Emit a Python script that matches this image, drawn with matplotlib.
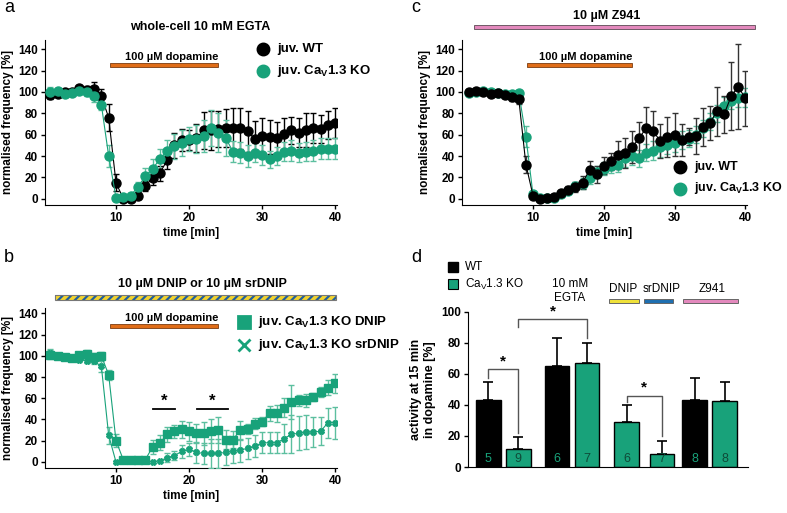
import matplotlib
matplotlib.use('Agg')
import matplotlib.pyplot as plt
from matplotlib.patches import Rectangle
import numpy as np

plt.rcParams['font.family'] = ['Liberation Sans', 'DejaVu Sans']
plt.rcParams['mathtext.fontset'] = 'custom'
plt.rcParams['mathtext.rm'] = 'Liberation Sans'
plt.rcParams['mathtext.bf'] = 'Liberation Sans:bold'
plt.rcParams['hatch.linewidth'] = 1.6

GREEN = '#18a27a'
W, H = 787, 513

minutes = np.arange(1, 41)

# panel a: whole-cell 10 mM EGTA
a_wt = [97, 98, 100, 100, 104, 102, 103, 96, 76, 15, 0, 0, 3, 12, 19, 24, 36, 50, 55, 55,
        57, 64, 64, 65, 66, 66, 66, 63, 56, 59, 58, 57, 61, 64, 62, 64, 66, 65, 69, 71]
a_wt_err = [4, 3, 3, 3, 3, 4, 6, 7, 13, 8, 2, 2, 3, 5, 6, 7, 8, 12, 10, 9,
            13, 17, 18, 17, 18, 19, 19, 19, 17, 17, 16, 15, 15, 13, 14, 16, 14, 13, 13, 14]
a_ko = [100, 101, 98, 99, 101, 100, 96, 88, 40, 1, 2, 3, 11, 21, 28, 37, 45, 49, 52, 56,
        56, 59, 66, 62, 57, 44, 43, 40, 43, 41, 37, 40, 44, 45, 43, 44, 45, 47, 47, 47]
a_ko_err = [5, 3, 3, 2, 3, 4, 5, 5, 10, 2, 2, 2, 5, 8, 9, 10, 10, 12, 12, 11,
            13, 15, 17, 18, 17, 10, 10, 10, 9, 9, 8, 8, 9, 10, 9, 9, 10, 10, 10, 10]

# panel b: DNIP / srDNIP
b_dnip = [101, 100, 99, 98, 101, 102, 99, 100, 82, 20, 2, 2, 2, 2, 14, 18, 26, 29, 31, 29,
          27, 27, 29, 30, 21, 21, 30, 31, 36, 38, 46, 46, 51, 56, 58, 58, 61, 66, 70, 74]
b_dnip_err = [4, 3, 2, 3, 3, 3, 4, 4, 5, 6, 2, 3, 3, 3, 7, 7, 7, 6, 8, 9,
              9, 11, 11, 12, 9, 8, 9, 5, 5, 4, 7, 8, 9, 16, 5, 6, 4, 5, 7, 9]
b_sr = [103, 100, 98, 98, 96, 95, 95, 90, 25, 0, 2, 1, 1, 1, 0, 1, 4, 6, 10, 12,
        9, 8, 8, 8, 9, 10, 11, 13, 15, 18, 18, 18, 22, 26, 27, 28, 28, 29, 37, 37]
b_sr_err = [3, 2, 2, 2, 2, 2, 3, 5, 8, 1, 1, 1, 1, 1, 1, 1, 4, 4, 6, 6,
            10, 10, 14, 14, 12, 11, 11, 10, 10, 10, 10, 10, 14, 18, 16, 16, 14, 13, 14, 15]

# panel c: Z941
c_wt = [100, 101, 100, 98, 99, 97, 95, 93, 32, 3, 0, 1, 2, 5, 8, 11, 15, 27, 23, 31,
        35, 41, 43, 48, 57, 66, 63, 54, 58, 60, 55, 58, 59, 67, 71, 82, 79, 96, 105, 94]
c_wt_err = [3, 3, 2, 2, 2, 3, 3, 4, 8, 2, 1, 1, 2, 3, 4, 5, 6, 8, 8, 8,
            8, 13, 14, 15, 15, 20, 19, 16, 19, 20, 15, 8, 17, 18, 16, 23, 17, 32, 40, 26]
c_ko = [99, 100, 101, 100, 99, 98, 98, 99, 58, 4, 1, 1, 1, 4, 7, 12, 14, 19, 25, 28,
        31, 32, 38, 40, 38, 43, 45, 48, 50, 52, 55, 56, 60, 66, 72, 80, 87, 92, 94, 95]
c_ko_err = [2, 2, 2, 2, 2, 2, 3, 3, 10, 2, 1, 1, 1, 2, 3, 4, 5, 5, 6, 6,
            7, 7, 8, 8, 8, 8, 9, 9, 8, 8, 8, 8, 8, 8, 8, 8, 8, 8, 8, 9]

# panel d: activity at 15 min in dopamine
d_vals = [43, 11.5, 65, 67, 29, 8.5, 43, 42.5]
d_err = [12, 7.5, 18, 13, 11, 8.5, 14, 12.5]
d_n = ['5', '9', '6', '7', '6', '7', '8', '8']
d_is_wt = [True, False, True, False, False, False, True, False]

dopamine_on, dopamine_off = 9.2, 24.0


def fx(x):
    return x / W


def fy(y):
    return 1 - y / H


def box(l, t, r, b):
    return [fx(l), fy(b), (r - l) / W, (b - t) / H]


def style(ax):
    for s in ['top', 'right']:
        ax.spines[s].set_visible(False)
    ax.tick_params(direction='out', length=3, width=1, labelsize=8.5, pad=2)
    for lab in ax.get_xticklabels() + ax.get_yticklabels():
        lab.set_fontweight('bold')


def trace(ax, y, err, color, marker='o', ms=6.5, ecolor=None):
    ax.errorbar(minutes, y, yerr=err, color=color, ecolor=ecolor or color,
                marker=marker, ms=ms, lw=0.8, elinewidth=1, capsize=2.5,
                capthick=1, mec=color, zorder=3)


def dopamine(ax, y):
    ax.add_patch(Rectangle((dopamine_on, y - 1.6), dopamine_off - dopamine_on, 3.2,
                           facecolor='#e06d18', edgecolor='#7a3c10', lw=0.6,
                           clip_on=False, zorder=4))
    ax.text(dopamine_off, y + 3, '100 µM dopamine', ha='right', va='bottom',
            fontsize=8, fontweight='bold')


def time_axes(ax, xl):
    ax.set_xlim(*xl)
    ax.set_xticks([10, 20, 30, 40])
    ax.set_yticks(range(0, 141, 20))
    ax.set_xlabel('time [min]', fontsize=8.5, fontweight='bold', labelpad=2)
    ax.set_ylabel('normalised frequency [%]', fontsize=8.5, fontweight='bold', labelpad=3)
    style(ax)


def legend_entry(ax, x, y, label, color, marker='o', ms=8, size=9.5):
    ax.plot([x], [y], marker=marker, color=color, ms=ms, mew=2, transform=ax.transAxes,
            clip_on=False, ls='none')
    ax.text(x + 0.05, y, label, transform=ax.transAxes, va='center', ha='left',
            fontsize=size, fontweight='bold')


fig = plt.figure(figsize=(W / 100, H / 100), dpi=100)

# ---- panel a
ax_a = fig.add_axes(box(45, 40, 337, 205))
trace(ax_a, a_wt, a_wt_err, 'black')
trace(ax_a, a_ko, a_ko_err, GREEN, ecolor='#5cbf9f')
ax_a.set_ylim(-5.9, 148.7)
time_axes(ax_a, (0.29, 40.23))
dopamine(ax_a, 125.3)
legend_entry(ax_a, 0.745, 0.945, 'juv. WT', 'black')
legend_entry(ax_a, 0.745, 0.81, r'juv. Ca$_{\mathbf{V}}$1.3 KO', GREEN)
fig.text(fx(200), fy(27), 'whole-cell 10 mM EGTA', ha='center', va='center',
         fontsize=9, fontweight='bold')

# ---- panel c
ax_c = fig.add_axes(box(462, 40, 747, 205))
trace(ax_c, c_ko, c_ko_err, GREEN, ecolor='#5cbf9f')
trace(ax_c, c_wt, c_wt_err, 'black', ecolor='#333333')
ax_c.set_ylim(-5.9, 148.7)
time_axes(ax_c, (-0.03, 40.24))
dopamine(ax_c, 125.3)
legend_entry(ax_c, 0.765, 0.23, 'juv. WT', 'black', size=9)
legend_entry(ax_c, 0.765, 0.10, r'juv. Ca$_{\mathbf{V}}$1.3 KO', GREEN, size=9)
fig.text(fx(607), fy(16), '10 µM Z941', ha='center', va='center',
         fontsize=9, fontweight='bold')
fig.add_artist(Rectangle((fx(474), fy(29)), (755 - 474) / W, 4 / H, transform=fig.transFigure,
                         facecolor='#e389bd', edgecolor='#6f5a66', lw=0.7))

# ---- panel b
ax_b = fig.add_axes(box(45, 308, 337, 468.3))
ax_b.errorbar(minutes, b_sr, yerr=b_sr_err, color=GREEN, ecolor='#5cbf9f', marker='X',
              ms=4, lw=0.8, elinewidth=1, capsize=2.5, capthick=1, zorder=3)
ax_b.errorbar(minutes, b_dnip, yerr=b_dnip_err, color=GREEN, ecolor='#5cbf9f', marker='s',
              ms=6, lw=0.8, elinewidth=1, capsize=2.5, capthick=1, zorder=3)
ax_b.set_ylim(-6.0, 145)
time_axes(ax_b, (0.29, 40.23))
dopamine(ax_b, 128)
legend_entry(ax_b, 0.68, 0.91, r'juv. Ca$_{\mathbf{V}}$1.3 KO DNIP', GREEN, marker='s', ms=8)
legend_entry(ax_b, 0.68, 0.77, r'juv. Ca$_{\mathbf{V}}$1.3 KO srDNIP', GREEN, marker='x', ms=9)
for x0, x1 in [(15.0, 18.1), (21.1, 25.3)]:
    ax_b.plot([x0, x1], [50, 50], color='black', lw=1.3)
    ax_b.text((x0 + x1) / 2, 50.5, '*', ha='center', va='bottom', fontsize=12, fontweight='bold')
fig.text(fx(202), fy(284), '10 µM DNIP or 10 µM srDNIP', ha='center', va='center',
         fontsize=9, fontweight='bold')
stripe = (fx(55), fy(299.5)), (336 - 55) / W, 5 / H
fig.add_artist(Rectangle(*stripe, transform=fig.transFigure, facecolor='#f2d22e',
                         edgecolor='#1f5fa0', hatch='////', lw=0))
fig.add_artist(Rectangle(*stripe, transform=fig.transFigure, facecolor='none',
                         edgecolor='#777777', lw=0.8))

# ---- panel d
ax_d = fig.add_axes(box(468, 311.7, 748, 467))
pos = [0, 1, 2.3, 3.3, 4.63, 5.8, 6.9, 7.9]
colors = ['black' if w else GREEN for w in d_is_wt]
ax_d.bar(pos, d_vals, width=0.83, color=colors, edgecolor='black', lw=1, zorder=2)
ax_d.errorbar(pos, d_vals, yerr=[np.zeros(len(d_err)), d_err], fmt='none',
              ecolor='black', elinewidth=1.2, capsize=3.5, capthick=1.2, zorder=1)
for p, n, w in zip(pos, d_n, d_is_wt):
    ax_d.text(p, 1, n, ha='center', va='bottom', fontsize=9,
              color=GREEN if w else '#0f4a38')
ax_d.set_xlim(-0.67, 8.67)
ax_d.set_ylim(0, 100)
ax_d.set_xticks([])
ax_d.set_yticks(range(0, 101, 20))
ax_d.set_ylabel('activity at 15 min\nin dopamine [%]', fontsize=9, fontweight='bold',
                labelpad=4)
style(ax_d)


def bracket(ax, x0, x1, y, y0, y1):
    ax.plot([x0, x0, x1, x1], [y0, y, y, y1], color='#555555', lw=1, clip_on=False)
    ax.text((x0 + x1) / 2, y + 0.5, '*', ha='center', va='bottom', fontsize=11,
            fontweight='bold', clip_on=False)


bracket(ax_d, pos[0], pos[1], 63, 57, 22)
bracket(ax_d, pos[1], pos[3], 95, 90, 83)
bracket(ax_d, pos[4], pos[5], 46, 42, 20)

fig.add_artist(Rectangle((fx(448), fy(272)), 10 / W, 10 / H, transform=fig.transFigure,
                         facecolor='black', edgecolor='black'))
fig.add_artist(Rectangle((fx(448), fy(289)), 10 / W, 10 / H, transform=fig.transFigure,
                         facecolor=GREEN, edgecolor='black', lw=0.8))
fig.text(fx(465), fy(267), 'WT', va='center', fontsize=8.5)
fig.text(fx(465), fy(284), r'Ca$_\mathrm{V}$1.3 KO', va='center', fontsize=8.5)
fig.text(fx(570), fy(284), '10 mM', ha='center', va='center', fontsize=8.5)
fig.text(fx(570), fy(298), 'EGTA', ha='center', va='center', fontsize=8.5)
for label, cx, l, r, fc in [('DNIP', 623, 609, 639, '#efe13a'),
                            ('srDNIP', 662, 644, 673, '#1f6fb0'),
                            ('Z941', 712, 683, 738, '#e389bd')]:
    fig.text(fx(cx), fy(289), label, ha='center', va='center', fontsize=8.5)
    fig.add_artist(Rectangle((fx(l), fy(303)), (r - l) / W, 4 / H, transform=fig.transFigure,
                             facecolor=fc, edgecolor='#666666', lw=0.7))

# panel letters
for letter, x, y in [('a', 4, 8), ('c', 411, 8), ('b', 4, 257), ('d', 411, 257)]:
    fig.text(fx(x), fy(y), letter, fontsize=13, va='center', ha='left')

fig.savefig('out.png', dpi=100)
